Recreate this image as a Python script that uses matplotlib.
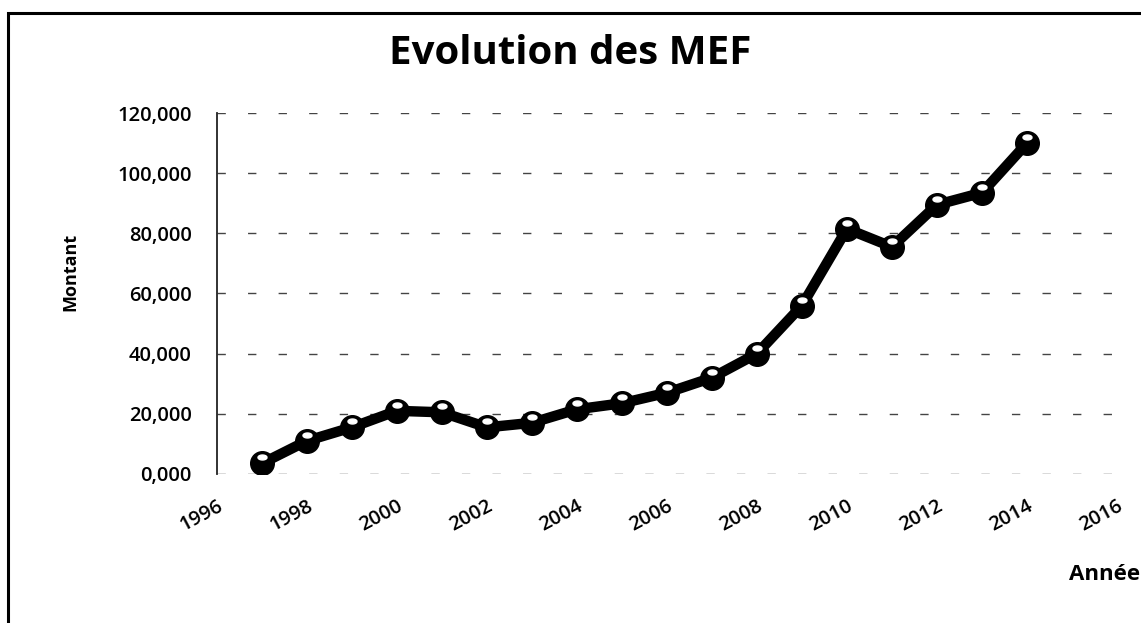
import matplotlib
matplotlib.use("Agg")
import numpy as np
import matplotlib.pyplot as plt
import matplotlib.transforms as mtransforms
from matplotlib.patches import Rectangle
from matplotlib.path import Path
from matplotlib.ticker import FuncFormatter

years = [1997, 1998, 1999, 2000, 2001, 2002, 2003, 2004, 2005, 2006,
         2007, 2008, 2009, 2010, 2011, 2012, 2013, 2014]
montant = [3500, 11000, 15500, 21000, 20500, 15500, 17000, 21500, 23500, 27000,
           32000, 40000, 56000, 81500, 75500, 89500, 93500, 110000]
x_ticks = [1996, 1998, 2000, 2002, 2004, 2006, 2008, 2010, 2012, 2014, 2016]
y_ticks = [0, 20000, 40000, 60000, 80000, 100000, 120000]

plt.rcParams['font.family'] = ['Open Sans', 'DejaVu Sans']

fig = plt.figure(figsize=(11.41, 6.23), dpi=100)
ax = fig.add_axes([0.190, 0.2392, 0.789, 0.5794])

# figure border (top and left visible, right/bottom cut off)
fig.patches.append(Rectangle((8/1141, -0.05), 1.2, 1 - 13/623 + 0.05,
                             transform=fig.transFigure, fill=False,
                             edgecolor='black', linewidth=2.2, zorder=0))

ax.plot(years, montant, color='black', linewidth=7.5, solid_capstyle='round',
        zorder=3)
ax.plot(years, montant, linestyle='none', marker='o', markersize=17,
        markerfacecolor='black', markeredgecolor='black', zorder=4)
t = np.linspace(0, 2*np.pi, 40)
ell = Path(np.column_stack([np.cos(t), 0.55*np.sin(t)]))
hl = mtransforms.offset_copy(ax.transData, fig=fig, x=0, y=4.3, units='points')
ax.plot(years, montant, linestyle='none', marker=ell, markersize=6.5,
        markerfacecolor='white', markeredgecolor='white', transform=hl,
        zorder=5)

ax.set_xlim(1996, 2016)
ax.set_ylim(0, 120000)
ax.set_xticks(x_ticks)
ax.set_yticks(y_ticks)
ax.yaxis.set_major_formatter(FuncFormatter(lambda v, p: f"{int(v/1000)},000"))
ax.tick_params(axis='both', length=0, labelsize=14.5)
ax.tick_params(axis='y', pad=18)
ax.tick_params(axis='x', pad=16)
for lbl in ax.get_xticklabels() + ax.get_yticklabels():
    lbl.set_fontweight(600)
for lbl in ax.get_xticklabels():
    lbl.set_rotation(28)
    lbl.set_ha('right')
    lbl.set_rotation_mode('anchor')

ax.grid(axis='y', color='#444444', linewidth=1, linestyle=(0, (6, 16)))
ax.set_axisbelow(True)
for s in ['top', 'right', 'bottom']:
    ax.spines[s].set_visible(False)
ax.spines['left'].set_linewidth(1.3)
ax.spines['left'].set_color('#222222')

fig.text(0.5, 1 - 54/623, "Evolution des MEF", ha='center', va='center',
         fontsize=29, fontweight='bold')
fig.text(70/1141, 1 - 272/623, "Montant", ha='center', va='center',
         rotation=90, fontsize=13, fontweight='bold')
fig.text(1140/1141, 1 - 575/623, "Année", ha='right', va='center',
         fontsize=16, fontweight='bold')

fig.savefig("out.png", dpi=100)
